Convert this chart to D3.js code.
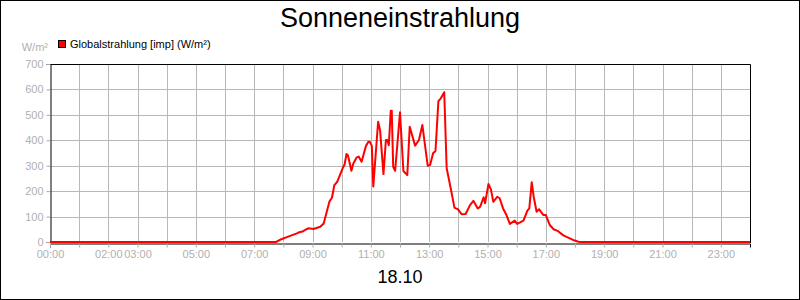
<!DOCTYPE html>
<html>
<head>
<meta charset="utf-8">
<script src="https://cdn.jsdelivr.net/npm/d3@7"></script>
<style>
  body { margin: 0; background: #fff; }
  svg { display: block; font-family: "Liberation Sans", Arial, sans-serif; }
</style>
</head>
<body>
<div id="chart"></div>
<script>
var title = "Sonneneinstrahlung";
var dateLabel = "18.10";
var unitLabel = "W/m²";
var seriesName = "Globalstrahlung [imp] (W/m²)";

var times = ["00:00", "07:45", "07:56", "08:10", "08:14", "08:28", "08:31", "08:41", "08:44", "08:52",
    "09:02", "09:16", "09:23", "09:35", "09:40", "09:45", "09:51", "10:02", "10:06", "10:10",
    "10:13", "10:20", "10:24", "10:31", "10:35", "10:41", "10:50", "10:55", "10:58", "11:02",
    "11:05", "11:15", "11:19", "11:26", "11:31", "11:34", "11:37", "11:41", "11:43", "11:46",
    "11:50", "12:00", "12:07", "12:15", "12:20", "12:31", "12:39", "12:46", "12:57", "13:02",
    "13:08", "13:13", "13:19", "13:24", "13:31", "13:36", "13:43", "13:52", "13:55", "13:59",
    "14:07", "14:15", "14:24", "14:31", "14:40", "14:45", "14:52", "14:55", "15:02", "15:07",
    "15:12", "15:20", "15:25", "15:32", "15:39", "15:46", "15:56", "16:01", "16:14", "16:22",
    "16:26", "16:31", "16:35", "16:41", "16:46", "16:55", "17:00", "17:08", "17:16", "17:24",
    "17:36", "17:46", "17:56", "18:07", "18:12", "24:00"];
var values = [0, 0, 11, 21, 24, 34, 37, 42, 47, 54,
    51, 60, 73, 160, 174, 224, 237, 290, 305, 346,
    340, 280, 309, 333, 336, 316, 378, 394, 394, 378,
    218, 473, 440, 267, 401, 401, 381, 516, 516, 296,
    280, 510, 279, 263, 453, 379, 401, 460, 300, 303,
    349, 358, 554, 565, 589, 290, 224, 135, 132, 129,
    109, 110, 145, 162, 132, 139, 176, 152, 228, 207,
    158, 178, 172, 132, 106, 71, 84, 71, 84, 123,
    132, 235, 178, 119, 129, 106, 106, 67, 50, 44,
    26, 17, 8, 1, 0, 0];

var yTicks = [0, 100, 200, 300, 400, 500, 600, 700];
var xTickHours = d3.range(0, 25);
var xLabelHours = [0, 2, 3, 5, 7, 9, 11, 13, 15, 17, 19, 21, 23];

var width = 800, height = 300;
var margin = { top: 64, right: 50, bottom: 58, left: 50 };

var toHours = function(s) {
    var p = s.split(":");
    return +p[0] + (+p[1]) / 60;
};
var pad = function(n) { return (n < 10 ? "0" : "") + n; };

var data = times.map(function(t, i) { return { h: toHours(t), v: values[i] }; });

var x = d3.scaleLinear().domain([0, 24]).range([margin.left, width - margin.right]);
var y = d3.scaleLinear().domain([0, 700]).range([height - margin.bottom, margin.top]);

var svg = d3.select("#chart").append("svg")
    .attr("width", width)
    .attr("height", height);

svg.append("rect")
    .attr("x", 0.5).attr("y", 0.5)
    .attr("width", width - 1).attr("height", height - 1)
    .attr("fill", "#fff")
    .attr("stroke", "#000");

// grid
svg.append("g").selectAll("line")
    .data(xTickHours.slice(1, 24))
    .enter().append("line")
    .attr("x1", function(d) { return Math.round(x(d)) + 0.5; })
    .attr("x2", function(d) { return Math.round(x(d)) + 0.5; })
    .attr("y1", y(700)).attr("y2", y(0))
    .attr("stroke", "#b8b8b8");
svg.append("g").selectAll("line")
    .data(yTicks.slice(1, 7))
    .enter().append("line")
    .attr("x1", x(0)).attr("x2", x(24))
    .attr("y1", function(d) { return Math.round(y(d)) + 0.5; })
    .attr("y2", function(d) { return Math.round(y(d)) + 0.5; })
    .attr("stroke", "#b8b8b8");

// frame top/right
svg.append("path")
    .attr("d", "M" + (x(0)) + "," + (y(700) + 0.5) + "H" + (x(24) + 0.5) + "V" + (y(0) + 1))
    .attr("fill", "none")
    .attr("stroke", "#000");

// axes
var xAxis = d3.axisBottom(x)
    .tickValues(xTickHours)
    .tickSize(4)
    .tickPadding(3)
    .tickFormat(function(d) { return xLabelHours.indexOf(d) >= 0 ? pad(d) + ":00" : ""; });
var gx = svg.append("g")
    .attr("transform", "translate(0," + (y(0) + 1.5) + ")")
    .call(xAxis);

var yAxis = d3.axisLeft(y)
    .tickValues(yTicks)
    .tickSize(4)
    .tickPadding(3);
var gy = svg.append("g")
    .attr("transform", "translate(" + (x(0) + 0.5) + ",0)")
    .call(yAxis);

[gx, gy].forEach(function(g) {
    g.select(".domain").attr("stroke", "#000");
    g.selectAll(".tick line").attr("stroke", "#aaa");
    g.selectAll(".tick text")
        .attr("fill", "#b0b0b0")
        .style("font-size", "11px")
        .style("font-family", "'Liberation Sans', Arial, sans-serif");
});
gx.selectAll(".tick line").filter(function(d) { return d === 24; }).remove();

// series line
var line = d3.line()
    .x(function(d) { return x(d.h); })
    .y(function(d) { return y(d.v); });
svg.append("path")
    .datum(data)
    .attr("d", line)
    .attr("fill", "none")
    .attr("stroke", "#ff0000")
    .attr("stroke-width", 2)
    .attr("stroke-linejoin", "round");

// texts
svg.append("text")
    .attr("x", width / 2).attr("y", 27)
    .attr("text-anchor", "middle")
    .style("font-size", "27px")
    .text(title);

svg.append("text")
    .attr("x", width / 2).attr("y", 283)
    .attr("text-anchor", "middle")
    .style("font-size", "18px")
    .text(dateLabel);

svg.append("text")
    .attr("x", 48).attr("y", 51)
    .attr("text-anchor", "end")
    .attr("fill", "#b0b0b0")
    .style("font-size", "11px")
    .text(unitLabel);

svg.append("rect")
    .attr("x", 58.5).attr("y", 40.5)
    .attr("width", 7).attr("height", 7)
    .attr("fill", "#ff0000")
    .attr("stroke", "#000");
svg.append("text")
    .attr("x", 70).attr("y", 48)
    .style("font-size", "11px")
    .text(seriesName);
</script>
</body>
</html>
